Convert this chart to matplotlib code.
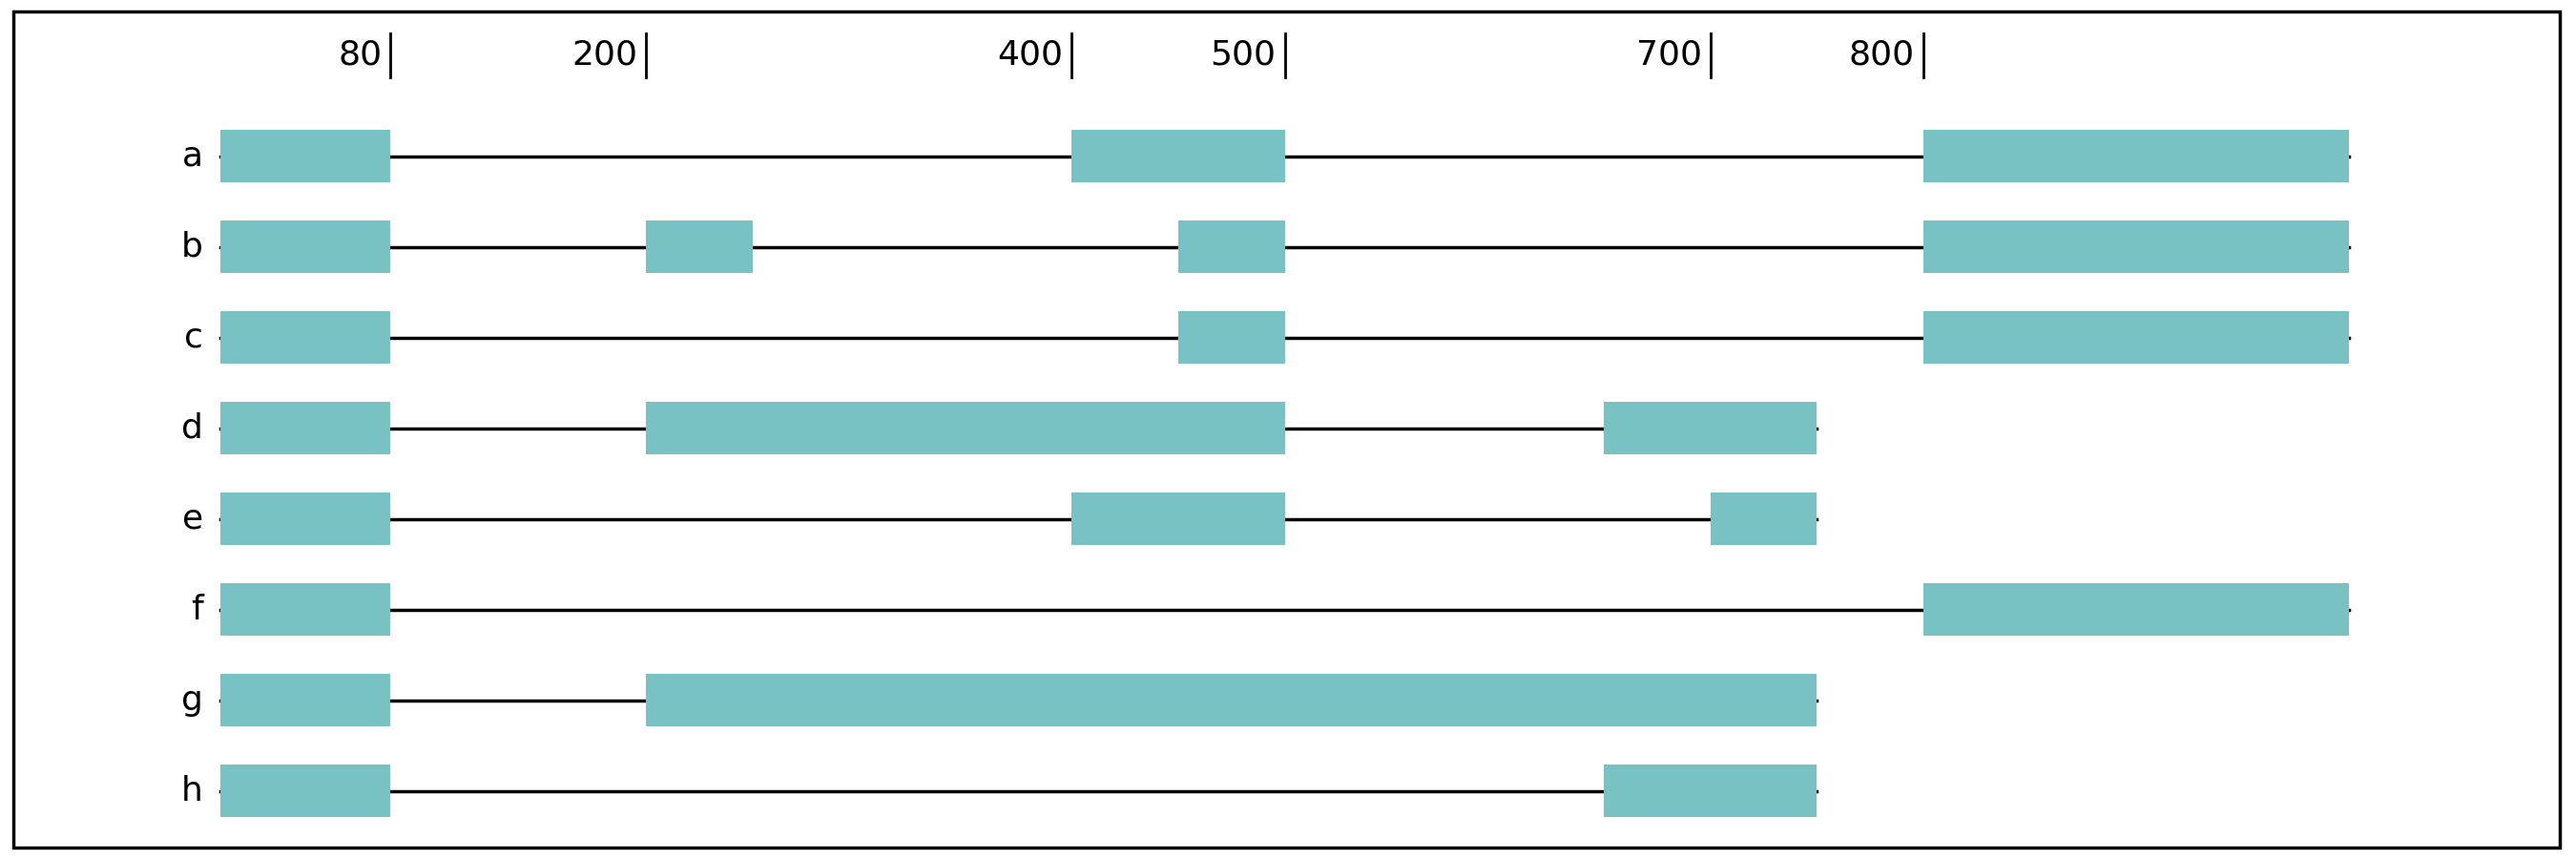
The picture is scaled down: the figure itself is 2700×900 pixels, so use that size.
import matplotlib
matplotlib.use("Agg")
import matplotlib.pyplot as plt
from matplotlib.patches import Rectangle

labels = ["a", "b", "c", "d", "e", "f", "g", "h"]
exons = [
    [(0, 80), (400, 500), (800, 1000)],
    [(0, 80), (200, 250), (450, 500), (800, 1000)],
    [(0, 80), (450, 500), (800, 1000)],
    [(0, 80), (200, 500), (650, 750)],
    [(0, 80), (400, 500), (700, 750)],
    [(0, 80), (800, 1000)],
    [(0, 80), (200, 750)],
    [(0, 80), (650, 750)],
]
ticks = [80, 200, 400, 500, 700, 800]

fig = plt.figure(figsize=(27, 9), dpi=100)
ax = fig.add_axes([0, 0, 1, 1])
ax.set_xlim(-103.4, 1106.5)
ax.set_ylim(7.75, -1.724)
ax.axis("off")

color = "#78c2c4"
h = 0.58
for i, (lab, ex) in enumerate(zip(labels, exons)):
    ax.plot([ex[0][0], ex[-1][1]], [i, i], color="black", lw=2.5, zorder=1)
    for s, e in ex:
        ax.add_patch(Rectangle((s, i - h / 2), e - s, h, facecolor=color, edgecolor="none", zorder=2))
    ax.text(-8, i, lab, ha="right", va="center", fontsize=26)

for t in ticks:
    ax.plot([t, t], [-1.36, -0.87], color="black", lw=2)
    ax.text(t - 4, -1.12, str(t), ha="right", va="center", fontsize=26)

fig.patches.append(Rectangle((8 / 1568, 7 / 522), 1550 / 1568, 508 / 522, transform=fig.transFigure,
                             fill=False, edgecolor="black", lw=2.5))
fig.savefig("out.png", dpi=100)
